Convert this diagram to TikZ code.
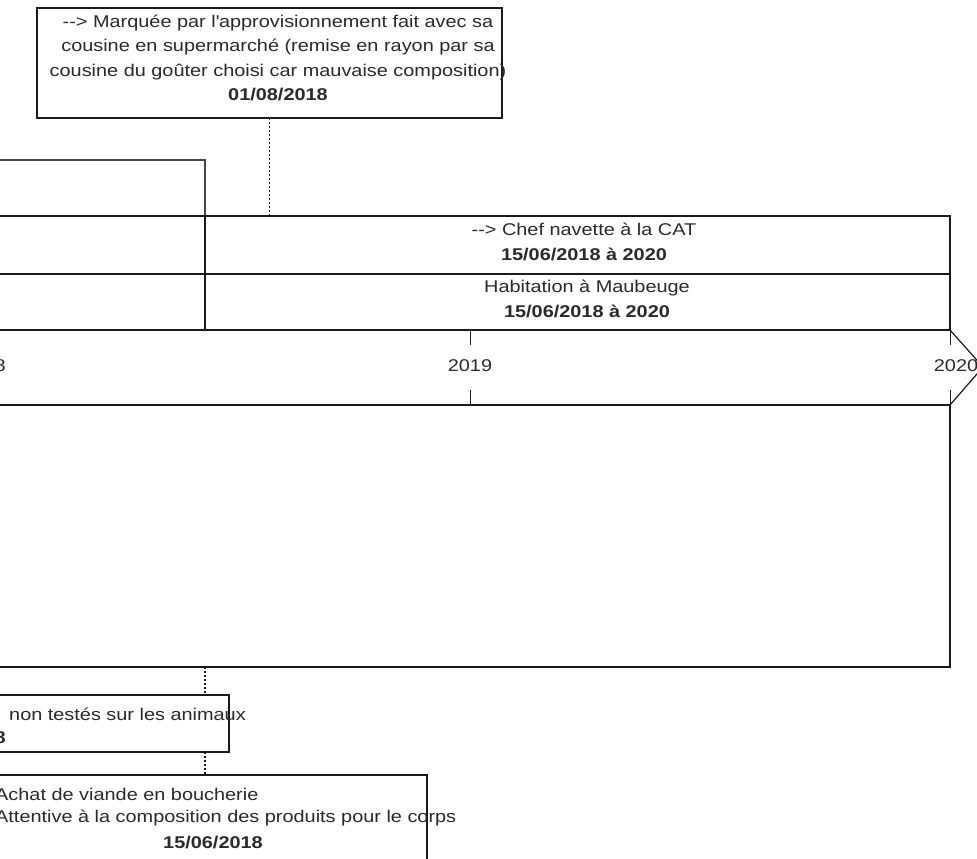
\documentclass[tikz,border=0pt]{standalone}
\usepackage{fontspec}
\setmainfont{Liberation Sans}[FakeStretch=1.17]
\definecolor{linec}{HTML}{1A1A1A}
\definecolor{greyline}{HTML}{444444}
\definecolor{txtc}{HTML}{2A2A2A}
\begin{document}
\begin{tikzpicture}[x=1pt,y=-1pt,
  txt/.style={text=txtc, font=\fontsize{17}{24.5}\selectfont, align=center, inner sep=0pt},
  box/.style={draw=linec, line width=1.2pt, inner sep=0pt, outer sep=0pt, rectangle},
  thinbox/.style={draw=greyline, line width=1.1pt, inner sep=0pt, outer sep=0pt, rectangle},
  dotline/.style={draw=linec, line width=1.2pt, dash pattern=on 2pt off 2pt},
  tick/.style={draw=linec, line width=1pt}]
\useasboundingbox (0,0) rectangle (977,859);
\clip (0,0) rectangle (977,859);
\fill[white] (0,0) rectangle (977,859);

% top note
\node[box, minimum width=465pt, minimum height=110pt, anchor=north west] (topbox) at (37,8) {};
\node[txt] (toptext) at (278,58) {-{}-> Marquée par l\textquotesingle approvisionnement fait avec sa\\cousine en supermarché (remise en rayon par sa\\cousine du goûter choisi car mauvaise composition)\\\textbf{01/08/2018}};

% upper-left cell
\node[thinbox, minimum width=210pt, minimum height=56pt, anchor=north west] (ulbox) at (-5,160) {};

% rows
\node[box, minimum width=210pt, minimum height=58pt, anchor=north west] (row1L) at (-5,216) {};
\node[box, minimum width=745pt, minimum height=58pt, anchor=north west] (row1R) at (205,216) {};
\node[box, minimum width=210pt, minimum height=56pt, anchor=north west] (row2L) at (-5,274) {};
\node[box, minimum width=745pt, minimum height=56pt, anchor=north west] (row2R) at (205,274) {};
\node[txt] (row1text) at (584,242) {-{}-> Chef navette à la CAT\\\textbf{15/06/2018 à 2020}};
\node[txt] (row2text) at (587,299) {Habitation à Maubeuge\\\textbf{15/06/2018 à 2020}};

% timeline arrow
\draw[draw=linec, line width=1.2pt] (-5,330) -- (950,330) -- (983,367) -- (950,405) -- (-5,405) -- cycle;
\draw[tick] (470,330) -- (470,345);
\draw[tick] (470,390) -- (470,405);
\draw[tick] (950,330) -- (950,345);
\draw[tick] (950,390) -- (950,405);
\node[txt, anchor=east] (y2018) at (6,366) {8};
\node[txt] (y2019) at (470,366) {2019};
\node[txt] (y2020) at (956,366) {2020};

% big area
\node[box, minimum width=955pt, minimum height=262pt, anchor=north west] (bigbox) at (-5,405) {};

% lower notes
\node[box, minimum width=234pt, minimum height=57pt, anchor=north west] (animbox) at (-5,695) {};
\node[txt, anchor=west] (animtext) at (9,714) {non testés sur les animaux};
\node[txt, anchor=east] (animdate) at (6,738) {\textbf{8}};

\node[box, minimum width=432pt, minimum height=100pt, anchor=north west] (botbox) at (-5,775) {};
\node[txt, anchor=west] (bot1) at (-5,794) {Achat de viande en boucherie};
\node[txt, anchor=west] (bot2) at (-5,818) {Attentive à la composition des produits pour le corps};
\node[txt] (bot3) at (213,843) {\textbf{15/06/2018}};

% dotted connectors
\draw[dotline] (topbox.south) -- (topbox.south |- row1R.north);
\draw[dotline] (ulbox.east |- bigbox.south) -- (ulbox.east |- animbox.north);
\draw[dotline] (ulbox.east |- animbox.south) -- (ulbox.east |- botbox.north);
\end{tikzpicture}
\end{document}
